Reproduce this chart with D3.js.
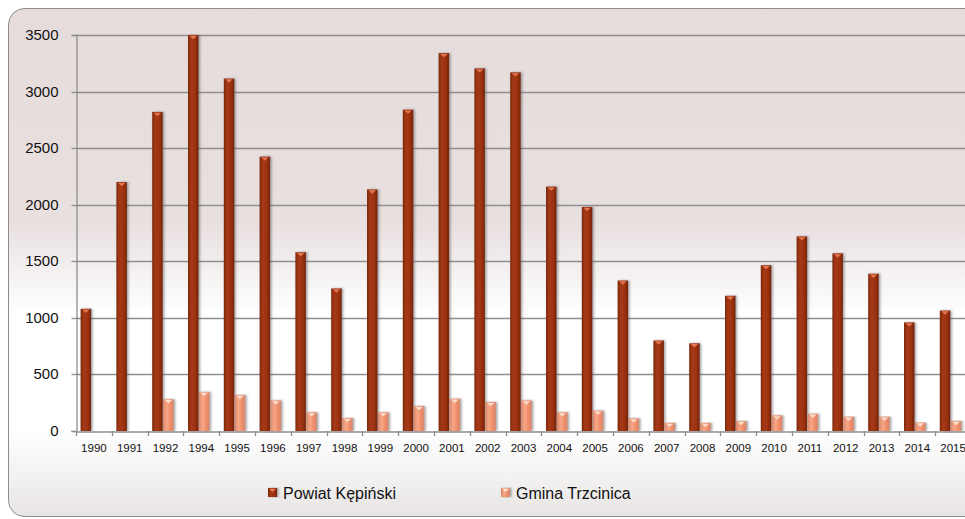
<!DOCTYPE html>
<html>
<head>
<meta charset="utf-8">
<script src="https://cdn.jsdelivr.net/npm/d3@7.9.0/dist/d3.min.js"></script>
<style>
  html, body { margin: 0; padding: 0; background: #ffffff; overflow: hidden; }
  svg { display: block; font-family: "Liberation Sans", Arial, sans-serif; }
</style>
</head>
<body>
<svg id="chart" width="965" height="519"></svg>
<script>
const years = ["1990", "1991", "1992", "1994", "1995", "1996", "1997", "1998", "1999", "2000",
  "2001", "2002", "2003", "2004", "2005", "2006", "2007", "2008", "2009", "2010",
  "2011", "2012", "2013", "2014", "2015"];
const powiat = [1080, 2200, 2820, 3500, 3115, 2425, 1580, 1260, 2135, 2840,
  3340, 3205, 3170, 2160, 1980, 1330, 800, 775, 1195, 1465,
  1720, 1570, 1390, 960, 1065];
const gmina = [0, 0, 280, 345, 318, 270, 165, 115, 165, 220,
  285, 255, 270, 165, 180, 112, 72, 72, 88, 138,
  152, 126, 126, 75, 88];
const yTicks = [0, 500, 1000, 1500, 2000, 2500, 3000, 3500];
const seriesNames = ["Powiat Kępiński", "Gmina Trzcinica"];

const svg = d3.select("#chart");
const defs = svg.append("defs");

// chart background gradient
const bg = defs.append("linearGradient").attr("id", "bg").attr("x1", 0).attr("y1", 0).attr("x2", 0).attr("y2", 1);
[[0, "#e6dcdc"], [0.42, "#e8dfdf"], [0.6, "#ffffff"], [0.83, "#ffffff"], [1, "#e8e4e4"]]
  .forEach(([o, c]) => bg.append("stop").attr("offset", o).attr("stop-color", c));

// bar gradients (cylinder-ish look)
const gradP = defs.append("linearGradient").attr("id", "gradP");
[[0, "#7c280c"], [0.3, "#a53914"], [0.65, "#9e3311"], [1, "#76240a"]]
  .forEach(([o, c]) => gradP.append("stop").attr("offset", o).attr("stop-color", c));
const gradG = defs.append("linearGradient").attr("id", "gradG");
[[0, "#d9866a"], [0.35, "#f7a888"], [0.7, "#f28b66"], [1, "#cf8b76"]]
  .forEach(([o, c]) => gradG.append("stop").attr("offset", o).attr("stop-color", c));

const shadow = defs.append("filter").attr("id", "shadow")
  .attr("x", "-50%").attr("y", "-5%").attr("width", "200%").attr("height", "110%");
shadow.append("feDropShadow").attr("dx", 1.5).attr("dy", 0).attr("stdDeviation", 1.2)
  .attr("flood-color", "#555").attr("flood-opacity", 0.55);

// chart frame
svg.append("rect")
  .attr("x", 8.5).attr("y", 8.5)
  .attr("width", 1000).attr("height", 508)
  .attr("rx", 16).attr("ry", 16)
  .attr("fill", "url(#bg)")
  .attr("stroke", "#8c8c8c")
  .attr("stroke-width", 1);

const x = d3.scaleBand().domain(years).range([76, 971]).padding(0);
const xs = d3.scaleBand().domain(["powiat", "gmina"]).range([4.6, 26.6]).padding(0);
const y = d3.scaleLinear().domain([0, 3500]).range([431, 35]);

// gridlines
svg.append("g")
  .selectAll("line")
  .data(yTicks.filter(d => d > 0))
  .join("line")
  .attr("x1", 76).attr("x2", 971)
  .attr("y1", d => Math.round(y(d)) + 0.5)
  .attr("y2", d => Math.round(y(d)) + 0.5)
  .attr("stroke", "#8e8e8e")
  .attr("stroke-width", 1.3);

// y axis
const yAxis = svg.append("g")
  .attr("transform", "translate(76.5,0)")
  .call(d3.axisLeft(y).tickValues(yTicks).tickSize(5).tickPadding(13).tickFormat(d3.format("d")));
yAxis.select(".domain").attr("stroke", "#8e8e8e").attr("stroke-width", 1.3);
yAxis.selectAll(".tick line").attr("stroke", "#8e8e8e").attr("stroke-width", 1.3);
yAxis.selectAll("text").attr("font-size", 15).attr("fill", "#111");
yAxis.selectAll(".tick").attr("transform", d => `translate(0,${Math.round(y(d)) + 0.5})`);

// bars
const groups = svg.append("g")
  .selectAll("g")
  .data(years.map((yr, i) => ({ yr, p: powiat[i], g: gmina[i] })))
  .join("g")
  .attr("transform", d => `translate(${x(d.yr)},0)`);

function drawBars(key, grad, cap) {
  const sel = groups.filter(d => d[key] > 0);
  const bw = xs.bandwidth() - 0.5;
  const bx = xs(key === "p" ? "powiat" : "gmina");
  sel.append("rect")
    .attr("x", bx)
    .attr("y", d => y(d[key]))
    .attr("width", bw)
    .attr("height", d => y(0) - y(d[key]))
    .attr("fill", `url(#${grad})`)
    .attr("filter", "url(#shadow)");
  sel.append("path")
    .attr("d", d => {
      const t = y(d[key]);
      return `M${bx + 1.5},${t + 0.8} L${bx + bw - 1.5},${t + 0.8} L${bx + bw / 2},${t + 4.2} Z`;
    })
    .attr("fill", cap)
    .attr("opacity", 0.9);
}
drawBars("p", "gradP", "#ec7a52");
drawBars("g", "gradG", "#fde3d6");

// x axis
const xAxis = svg.append("g")
  .attr("transform", "translate(0,431.5)")
  .call(d3.axisBottom(x).tickSize(0).tickPadding(12));
xAxis.select(".domain").attr("stroke", "#8e8e8e").attr("stroke-width", 1.3);
xAxis.selectAll("text").attr("font-size", 11.5).attr("fill", "#111");
svg.append("g")
  .selectAll("line")
  .data(years)
  .join("line")
  .attr("x1", d => Math.round(x(d)) + 0.5)
  .attr("x2", d => Math.round(x(d)) + 0.5)
  .attr("y1", 431).attr("y2", 436)
  .attr("stroke", "#8e8e8e")
  .attr("stroke-width", 1.3);

// legend
const legend = svg.append("g");
const legendX = [268, 501];
const legendFill = ["url(#gradP)", "url(#gradG)"];
const legendCap = ["#ec7a52", "#fde3d6"];
seriesNames.forEach((name, i) => {
  const g = legend.append("g").attr("transform", `translate(${legendX[i]},488)`);
  g.append("rect").attr("width", 9).attr("height", 9)
    .attr("fill", legendFill[i]).attr("filter", "url(#shadow)");
  g.append("path").attr("d", "M1,0.8 L8,0.8 L4.5,4 Z").attr("fill", legendCap[i]);
  g.append("text").attr("x", 15).attr("y", 11)
    .attr("font-size", 16).attr("fill", "#111").text(name);
});
</script>
</body>
</html>
